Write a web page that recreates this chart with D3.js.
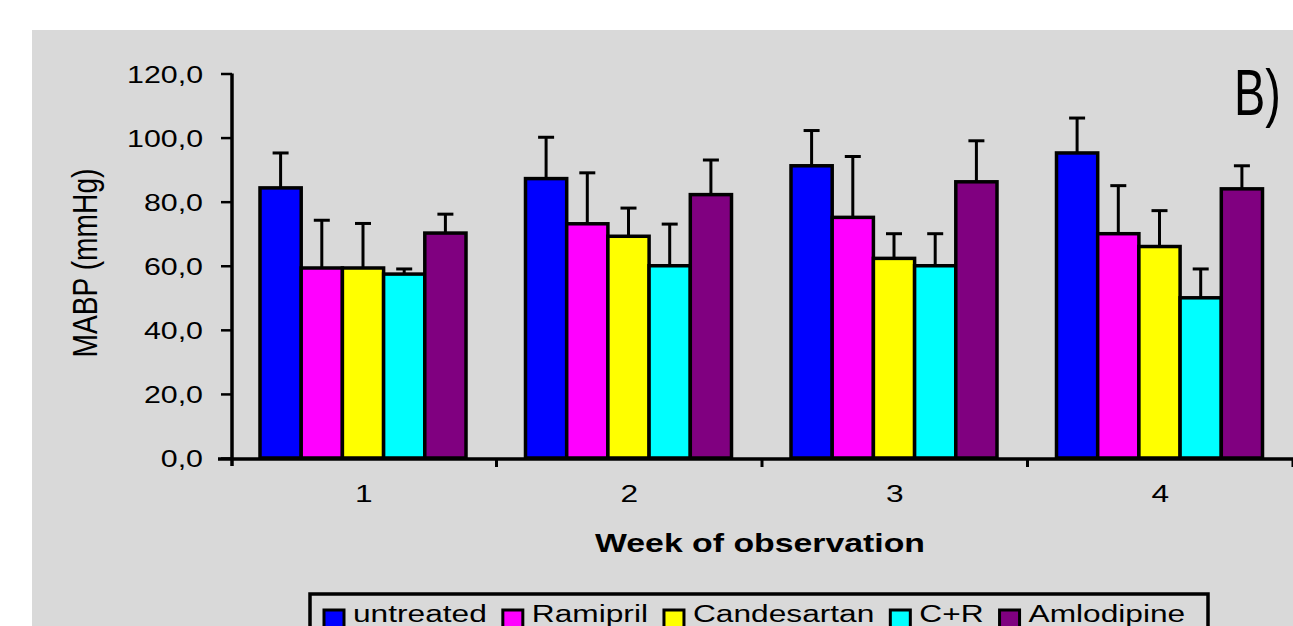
<!DOCTYPE html>
<html>
<head>
<meta charset="utf-8">
<script src="https://cdn.jsdelivr.net/npm/d3@7"></script>
<style>
  html, body { margin: 0; padding: 0; background: #ffffff; }
  svg { display: block; }
  text { font-family: "Liberation Sans", Arial, sans-serif; fill: #000; }
</style>
</head>
<body>
<div id="chart"></div>
<script>
// ---------------------------------------------------------------
// Data
// ---------------------------------------------------------------
const weeks = ["1", "2", "3", "4"];
const series = ["untreated", "Ramipril", "Candesartan", "C+R", "Amlodipine"];
const colors = ["#0000ff", "#ff00ff", "#ffff00", "#00ffff", "#800080"];

const untreatedMean   = [84.3, 87.2, 91.2, 95.2];
const ramiprilMean    = [59.3, 73.1, 75.1, 70.0];
const candesartanMean = [59.3, 69.2, 62.3, 66.0];
const crMean          = [57.4, 60.0, 60.0, 50.0];
const amlodipineMean  = [70.2, 82.2, 86.2, 84.0];

const untreatedSD   = [10.9, 12.9, 11.0, 10.9];
const ramiprilSD    = [14.9, 15.9, 19.0, 15.0];
const candesartanSD = [13.9,  8.8,  7.7, 11.2];
const crSD          = [ 1.6, 13.0, 10.0,  9.0];
const amlodipineSD  = [ 5.9, 10.8, 12.8,  7.2];

const yTicks = [0, 20, 40, 60, 80, 100, 120];

const means = [untreatedMean, ramiprilMean, candesartanMean, crMean, amlodipineMean];
const sds = [untreatedSD, ramiprilSD, candesartanSD, crSD, amlodipineSD];

// ---------------------------------------------------------------
// Layout
// ---------------------------------------------------------------
const W = 1293, H = 626;
const BG = "#d9d9d9";
const SX = 1.32; // the picture's text is stretched horizontally

const svg = d3.select("#chart").append("svg")
    .attr("width", W).attr("height", H);

svg.append("rect")
    .attr("x", 32).attr("y", 30)
    .attr("width", W - 32).attr("height", H - 30)
    .attr("fill", BG);

const x0 = d3.scaleBand().domain(weeks).range([231, 1293]);
const x1 = d3.scaleBand().domain(series).range([29, 235]);
const y = d3.scaleLinear().domain([0, 120]).range([458, 73.5]);

const rows = [];
weeks.forEach((w, wi) => {
    series.forEach((s, si) => {
        rows.push({ week: w, name: s, color: colors[si], mean: means[si][wi], sd: sds[si][wi] });
    });
});

// ---------------------------------------------------------------
// Bars + error bars
// ---------------------------------------------------------------
const bars = svg.append("g");
bars.selectAll("rect")
    .data(rows)
    .join("rect")
    .attr("x", d => x0(d.week) + x1(d.name))
    .attr("y", d => y(d.mean))
    .attr("width", x1.bandwidth())
    .attr("height", d => y(0) - y(d.mean))
    .attr("fill", d => d.color)
    .attr("stroke", "#000")
    .attr("stroke-width", 3.5);

const err = svg.append("g").attr("stroke", "#000").attr("stroke-width", 3);
err.selectAll("line.v")
    .data(rows)
    .join("line")
    .attr("class", "v")
    .attr("x1", d => x0(d.week) + x1(d.name) + x1.bandwidth() / 2)
    .attr("x2", d => x0(d.week) + x1(d.name) + x1.bandwidth() / 2)
    .attr("y1", d => y(d.mean))
    .attr("y2", d => y(d.mean + d.sd));
err.selectAll("line.cap")
    .data(rows)
    .join("line")
    .attr("class", "cap")
    .attr("x1", d => x0(d.week) + x1(d.name) + x1.bandwidth() / 2 - 8)
    .attr("x2", d => x0(d.week) + x1(d.name) + x1.bandwidth() / 2 + 8)
    .attr("y1", d => y(d.mean + d.sd))
    .attr("y2", d => y(d.mean + d.sd));

// ---------------------------------------------------------------
// Y axis
// ---------------------------------------------------------------
const commaLocale = d3.formatLocale({ decimal: ",", thousands: ".", grouping: [3], currency: ["", ""] });
const fmt = commaLocale.format(".1f");

const yAxis = svg.append("g")
    .attr("transform", "translate(232,0)")
    .call(d3.axisLeft(y).tickValues(yTicks).tickSize(11).tickFormat(fmt));
yAxis.select(".domain").remove();
yAxis.selectAll(".tick line").attr("stroke", "#000").attr("stroke-width", 2.5);
yAxis.selectAll(".tick text")
    .attr("font-size", 23)
    .attr("font-family", "Liberation Sans, Arial, sans-serif")
    .attr("x", -29 / SX)
    .attr("dy", "0.37em")
    .attr("transform", `scale(${SX},1)`);
yAxis.append("line")
    .attr("x1", 0).attr("x2", 0)
    .attr("y1", y(120)).attr("y2", 466)
    .attr("stroke", "#000").attr("stroke-width", 3.5);

// ---------------------------------------------------------------
// X axis
// ---------------------------------------------------------------
const xAxis = svg.append("g")
    .attr("transform", "translate(0,459)")
    .call(d3.axisBottom(x0).tickSize(0).tickPadding(26));
xAxis.select(".domain").remove();
xAxis.selectAll(".tick text")
    .attr("font-size", 24)
    .attr("font-family", "Liberation Sans, Arial, sans-serif")
    .attr("x", 0)
    .attr("dy", "0.71em")
    .attr("transform", `scale(${SX},1)`);
xAxis.append("line")
    .attr("x1", 218).attr("x2", W)
    .attr("y1", 0).attr("y2", 0)
    .attr("stroke", "#000").attr("stroke-width", 3.5);
xAxis.selectAll("line.bound")
    .data(weeks)
    .join("line")
    .attr("class", "bound")
    .attr("x1", d => x0(d) + x0.bandwidth())
    .attr("x2", d => x0(d) + x0.bandwidth())
    .attr("y1", 0).attr("y2", 8)
    .attr("stroke", "#000").attr("stroke-width", 3);

// ---------------------------------------------------------------
// Titles
// ---------------------------------------------------------------
svg.append("text")
    .attr("x", 760).attr("y", 552)
    .attr("text-anchor", "middle")
    .attr("font-size", 25)
    .attr("font-weight", "bold")
    .attr("textLength", 330)
    .attr("lengthAdjust", "spacingAndGlyphs")
    .text("Week of observation");

svg.append("text")
    .attr("transform", "translate(97,263) rotate(-90) scale(1,1.32)")
    .attr("text-anchor", "middle")
    .attr("font-size", 26)
    .attr("textLength", 189)
    .attr("lengthAdjust", "spacingAndGlyphs")
    .text("MABP (mmHg)");

svg.append("text")
    .attr("transform", "translate(1234,115) scale(0.72,1)")
    .attr("font-size", 65)
    .text("B)");

// ---------------------------------------------------------------
// Legend
// ---------------------------------------------------------------
const legend = svg.append("g");
legend.append("rect")
    .attr("x", 310).attr("y", 594)
    .attr("width", 898).attr("height", 60)
    .attr("fill", BG)
    .attr("stroke", "#000").attr("stroke-width", 3.5);

let lx = 324;
series.forEach((s, i) => {
    legend.append("rect")
        .attr("x", lx).attr("y", 610)
        .attr("width", 20).attr("height", 20)
        .attr("fill", colors[i])
        .attr("stroke", "#000").attr("stroke-width", 3);
    const t = legend.append("text")
        .attr("transform", `translate(${lx + 29},622) scale(${SX},1)`)
        .attr("font-size", 24)
        .text(s);
    const w = t.node().getComputedTextLength() * SX;
    lx += 29 + w + 16;
});
</script>
</body>
</html>
